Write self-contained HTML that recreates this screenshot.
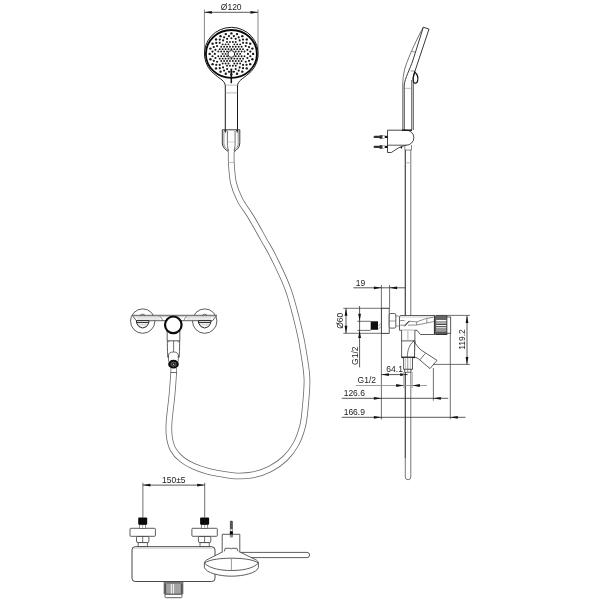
<!DOCTYPE html>
<html><head><meta charset="utf-8"><style>
html,body{margin:0;padding:0;background:#fff;width:600px;height:600px;overflow:hidden}
svg{display:block;will-change:transform}
text{font-family:"Liberation Sans",sans-serif;fill:#222}
</style></head><body>
<svg width="600" height="600" viewBox="0 0 600 600">
<rect width="600" height="600" fill="#fff"/>
<path d="M231.30,151.00 C231.30,152.92 230.93,157.17 231.30,162.50 C231.67,167.83 232.05,176.75 233.50,183.00 C234.95,189.25 237.12,194.38 240.00,200.00 C242.88,205.62 246.80,210.03 250.80,216.70 C254.80,223.37 260.25,233.33 264.00,240.00 C267.75,246.67 269.25,248.37 273.30,256.70 C277.35,265.03 283.98,277.78 288.30,290.00 C292.62,302.22 296.63,319.17 299.25,330.00 C301.87,340.83 302.71,346.67 304.00,355.00 C305.29,363.33 306.83,370.83 307.00,380.00 C307.17,389.17 305.75,402.22 305.00,410.00 C304.25,417.78 304.00,421.03 302.50,426.70 C301.00,432.37 298.92,438.70 296.00,444.00 C293.08,449.30 289.33,454.33 285.00,458.50 C280.67,462.67 275.28,466.28 270.00,469.00 C264.72,471.72 258.85,473.63 253.30,474.80 C247.75,475.97 241.97,476.13 236.70,476.00 C231.43,475.87 226.65,474.83 221.70,474.00 C216.75,473.17 211.78,472.33 207.00,471.00 C202.22,469.67 197.22,467.95 193.00,466.00 C188.78,464.05 185.03,462.08 181.70,459.30 C178.37,456.52 175.07,453.07 173.00,449.30 C170.93,445.53 169.97,441.03 169.30,436.70 C168.63,432.37 168.83,427.75 169.00,423.30 C169.17,418.85 169.80,414.72 170.30,410.00 C170.80,405.28 171.43,401.33 172.00,395.00 C172.57,388.67 173.42,376.50 173.70,372.00 C173.98,367.50 173.70,368.67 173.70,368.00" fill="none" stroke="#6a6a6a" stroke-width="6.6"/>
<path d="M231.30,151.00 C231.30,152.92 230.93,157.17 231.30,162.50 C231.67,167.83 232.05,176.75 233.50,183.00 C234.95,189.25 237.12,194.38 240.00,200.00 C242.88,205.62 246.80,210.03 250.80,216.70 C254.80,223.37 260.25,233.33 264.00,240.00 C267.75,246.67 269.25,248.37 273.30,256.70 C277.35,265.03 283.98,277.78 288.30,290.00 C292.62,302.22 296.63,319.17 299.25,330.00 C301.87,340.83 302.71,346.67 304.00,355.00 C305.29,363.33 306.83,370.83 307.00,380.00 C307.17,389.17 305.75,402.22 305.00,410.00 C304.25,417.78 304.00,421.03 302.50,426.70 C301.00,432.37 298.92,438.70 296.00,444.00 C293.08,449.30 289.33,454.33 285.00,458.50 C280.67,462.67 275.28,466.28 270.00,469.00 C264.72,471.72 258.85,473.63 253.30,474.80 C247.75,475.97 241.97,476.13 236.70,476.00 C231.43,475.87 226.65,474.83 221.70,474.00 C216.75,473.17 211.78,472.33 207.00,471.00 C202.22,469.67 197.22,467.95 193.00,466.00 C188.78,464.05 185.03,462.08 181.70,459.30 C178.37,456.52 175.07,453.07 173.00,449.30 C170.93,445.53 169.97,441.03 169.30,436.70 C168.63,432.37 168.83,427.75 169.00,423.30 C169.17,418.85 169.80,414.72 170.30,410.00 C170.80,405.28 171.43,401.33 172.00,395.00 C172.57,388.67 173.42,376.50 173.70,372.00 C173.98,367.50 173.70,368.67 173.70,368.00" fill="none" stroke="#fff" stroke-width="5.0"/>
<line x1="228.50" y1="162.50" x2="234.20" y2="162.50" stroke="#999" stroke-width="0.60"/>
<line x1="170.60" y1="372.50" x2="176.80" y2="372.50" stroke="#444" stroke-width="0.80"/>
<line x1="204.40" y1="9.50" x2="204.40" y2="50.00" stroke="#555" stroke-width="0.70"/>
<line x1="258.00" y1="9.50" x2="258.00" y2="50.00" stroke="#555" stroke-width="0.70"/>
<line x1="204.40" y1="12.30" x2="258.00" y2="12.30" stroke="#222" stroke-width="0.75"/>
<path d="M204.40,12.30 L211.90,10.90 L211.90,13.70 Z" fill="#111"/>
<path d="M258.00,12.30 L250.50,13.70 L250.50,10.90 Z" fill="#111"/>
<text x="231.20" y="10.00" font-size="8.50" text-anchor="middle">&#216;120</text>
<path d="M225.3,130 L225.3,86 C225.3,81 219.5,78.5 215.9,75.3 A26.9,26.35 0 1 1 246.7,75.3 C243.1,78.5 237.5,81 237.5,86 L237.5,130" fill="#fff" stroke="#1a1a1a" stroke-width="1.0"/>
<ellipse cx="231.4" cy="53.9" rx="25.5" ry="23.9" fill="#fff" stroke="#0a0a0a" stroke-width="1.8"/>
<circle cx="231.40" cy="33.40" r="1.20" fill="#1a1a1a"/>
<circle cx="237.02" cy="34.10" r="1.20" fill="#1a1a1a"/>
<circle cx="242.27" cy="36.15" r="1.20" fill="#1a1a1a"/>
<circle cx="246.77" cy="39.40" r="1.20" fill="#1a1a1a"/>
<circle cx="250.22" cy="43.65" r="1.20" fill="#1a1a1a"/>
<circle cx="252.39" cy="48.59" r="1.20" fill="#1a1a1a"/>
<circle cx="253.13" cy="53.90" r="1.20" fill="#1a1a1a"/>
<circle cx="252.39" cy="59.21" r="1.20" fill="#1a1a1a"/>
<circle cx="250.22" cy="64.15" r="1.20" fill="#1a1a1a"/>
<circle cx="246.77" cy="68.40" r="1.20" fill="#1a1a1a"/>
<circle cx="242.27" cy="71.65" r="1.20" fill="#1a1a1a"/>
<circle cx="237.02" cy="73.70" r="1.20" fill="#1a1a1a"/>
<circle cx="231.40" cy="74.40" r="1.20" fill="#1a1a1a"/>
<circle cx="225.78" cy="73.70" r="1.20" fill="#1a1a1a"/>
<circle cx="220.54" cy="71.65" r="1.20" fill="#1a1a1a"/>
<circle cx="216.03" cy="68.40" r="1.20" fill="#1a1a1a"/>
<circle cx="212.58" cy="64.15" r="1.20" fill="#1a1a1a"/>
<circle cx="210.41" cy="59.21" r="1.20" fill="#1a1a1a"/>
<circle cx="209.67" cy="53.90" r="1.20" fill="#1a1a1a"/>
<circle cx="210.41" cy="48.59" r="1.20" fill="#1a1a1a"/>
<circle cx="212.58" cy="43.65" r="1.20" fill="#1a1a1a"/>
<circle cx="216.03" cy="39.40" r="1.20" fill="#1a1a1a"/>
<circle cx="220.53" cy="36.15" r="1.20" fill="#1a1a1a"/>
<circle cx="225.78" cy="34.10" r="1.20" fill="#1a1a1a"/>
<circle cx="233.89" cy="36.05" r="1.12" fill="#1a1a1a"/>
<circle cx="238.70" cy="37.27" r="1.12" fill="#1a1a1a"/>
<circle cx="243.02" cy="39.62" r="1.12" fill="#1a1a1a"/>
<circle cx="246.54" cy="42.94" r="1.12" fill="#1a1a1a"/>
<circle cx="249.03" cy="47.01" r="1.12" fill="#1a1a1a"/>
<circle cx="250.32" cy="51.55" r="1.12" fill="#1a1a1a"/>
<circle cx="250.32" cy="56.25" r="1.12" fill="#1a1a1a"/>
<circle cx="249.03" cy="60.79" r="1.12" fill="#1a1a1a"/>
<circle cx="246.54" cy="64.86" r="1.12" fill="#1a1a1a"/>
<circle cx="243.02" cy="68.18" r="1.12" fill="#1a1a1a"/>
<circle cx="238.70" cy="70.53" r="1.12" fill="#1a1a1a"/>
<circle cx="233.89" cy="71.75" r="1.12" fill="#1a1a1a"/>
<circle cx="228.91" cy="71.75" r="1.12" fill="#1a1a1a"/>
<circle cx="224.10" cy="70.53" r="1.12" fill="#1a1a1a"/>
<circle cx="219.78" cy="68.18" r="1.12" fill="#1a1a1a"/>
<circle cx="216.26" cy="64.86" r="1.12" fill="#1a1a1a"/>
<circle cx="213.77" cy="60.79" r="1.12" fill="#1a1a1a"/>
<circle cx="212.48" cy="56.25" r="1.12" fill="#1a1a1a"/>
<circle cx="212.48" cy="51.55" r="1.12" fill="#1a1a1a"/>
<circle cx="213.77" cy="47.01" r="1.12" fill="#1a1a1a"/>
<circle cx="216.26" cy="42.94" r="1.12" fill="#1a1a1a"/>
<circle cx="219.78" cy="39.62" r="1.12" fill="#1a1a1a"/>
<circle cx="224.10" cy="37.27" r="1.12" fill="#1a1a1a"/>
<circle cx="228.91" cy="36.05" r="1.12" fill="#1a1a1a"/>
<circle cx="231.40" cy="38.30" r="1.06" fill="#1a1a1a"/>
<circle cx="235.68" cy="38.83" r="1.06" fill="#1a1a1a"/>
<circle cx="239.67" cy="40.39" r="1.06" fill="#1a1a1a"/>
<circle cx="243.09" cy="42.87" r="1.06" fill="#1a1a1a"/>
<circle cx="245.72" cy="46.10" r="1.06" fill="#1a1a1a"/>
<circle cx="247.37" cy="49.86" r="1.06" fill="#1a1a1a"/>
<circle cx="247.94" cy="53.90" r="1.06" fill="#1a1a1a"/>
<circle cx="247.37" cy="57.94" r="1.06" fill="#1a1a1a"/>
<circle cx="245.72" cy="61.70" r="1.06" fill="#1a1a1a"/>
<circle cx="243.09" cy="64.93" r="1.06" fill="#1a1a1a"/>
<circle cx="239.67" cy="67.41" r="1.06" fill="#1a1a1a"/>
<circle cx="235.68" cy="68.97" r="1.06" fill="#1a1a1a"/>
<circle cx="231.40" cy="69.50" r="1.06" fill="#1a1a1a"/>
<circle cx="227.12" cy="68.97" r="1.06" fill="#1a1a1a"/>
<circle cx="223.13" cy="67.41" r="1.06" fill="#1a1a1a"/>
<circle cx="219.71" cy="64.93" r="1.06" fill="#1a1a1a"/>
<circle cx="217.08" cy="61.70" r="1.06" fill="#1a1a1a"/>
<circle cx="215.43" cy="57.94" r="1.06" fill="#1a1a1a"/>
<circle cx="214.86" cy="53.90" r="1.06" fill="#1a1a1a"/>
<circle cx="215.43" cy="49.86" r="1.06" fill="#1a1a1a"/>
<circle cx="217.08" cy="46.10" r="1.06" fill="#1a1a1a"/>
<circle cx="219.71" cy="42.87" r="1.06" fill="#1a1a1a"/>
<circle cx="223.13" cy="40.39" r="1.06" fill="#1a1a1a"/>
<circle cx="227.12" cy="38.83" r="1.06" fill="#1a1a1a"/>
<circle cx="227.03" cy="41.99" r="0.95" fill="#1a1a1a"/>
<circle cx="229.94" cy="41.99" r="0.95" fill="#1a1a1a"/>
<circle cx="232.86" cy="41.99" r="0.95" fill="#1a1a1a"/>
<circle cx="235.77" cy="41.99" r="0.95" fill="#1a1a1a"/>
<circle cx="222.66" cy="44.37" r="0.95" fill="#1a1a1a"/>
<circle cx="225.57" cy="44.37" r="0.95" fill="#1a1a1a"/>
<circle cx="228.49" cy="44.37" r="0.95" fill="#1a1a1a"/>
<circle cx="234.31" cy="44.37" r="0.95" fill="#1a1a1a"/>
<circle cx="237.23" cy="44.37" r="0.95" fill="#1a1a1a"/>
<circle cx="240.15" cy="44.37" r="0.95" fill="#1a1a1a"/>
<circle cx="221.20" cy="46.76" r="0.95" fill="#1a1a1a"/>
<circle cx="224.11" cy="46.76" r="0.95" fill="#1a1a1a"/>
<circle cx="227.03" cy="46.76" r="0.95" fill="#1a1a1a"/>
<circle cx="229.94" cy="46.76" r="0.95" fill="#1a1a1a"/>
<circle cx="232.86" cy="46.76" r="0.95" fill="#1a1a1a"/>
<circle cx="235.77" cy="46.76" r="0.95" fill="#1a1a1a"/>
<circle cx="238.69" cy="46.76" r="0.95" fill="#1a1a1a"/>
<circle cx="241.60" cy="46.76" r="0.95" fill="#1a1a1a"/>
<circle cx="219.74" cy="49.14" r="0.95" fill="#1a1a1a"/>
<circle cx="222.66" cy="49.14" r="0.95" fill="#1a1a1a"/>
<circle cx="225.57" cy="49.14" r="0.95" fill="#1a1a1a"/>
<circle cx="228.49" cy="49.14" r="0.95" fill="#1a1a1a"/>
<circle cx="231.40" cy="49.14" r="0.95" fill="#1a1a1a"/>
<circle cx="234.31" cy="49.14" r="0.95" fill="#1a1a1a"/>
<circle cx="237.23" cy="49.14" r="0.95" fill="#1a1a1a"/>
<circle cx="240.15" cy="49.14" r="0.95" fill="#1a1a1a"/>
<circle cx="243.06" cy="49.14" r="0.95" fill="#1a1a1a"/>
<circle cx="218.28" cy="51.52" r="0.95" fill="#1a1a1a"/>
<circle cx="221.20" cy="51.52" r="0.95" fill="#1a1a1a"/>
<circle cx="224.11" cy="51.52" r="0.95" fill="#1a1a1a"/>
<circle cx="227.03" cy="51.52" r="0.95" fill="#1a1a1a"/>
<circle cx="235.77" cy="51.52" r="0.95" fill="#1a1a1a"/>
<circle cx="238.69" cy="51.52" r="0.95" fill="#1a1a1a"/>
<circle cx="241.60" cy="51.52" r="0.95" fill="#1a1a1a"/>
<circle cx="244.52" cy="51.52" r="0.95" fill="#1a1a1a"/>
<circle cx="222.66" cy="53.90" r="0.95" fill="#1a1a1a"/>
<circle cx="225.57" cy="53.90" r="0.95" fill="#1a1a1a"/>
<circle cx="237.23" cy="53.90" r="0.95" fill="#1a1a1a"/>
<circle cx="240.15" cy="53.90" r="0.95" fill="#1a1a1a"/>
<circle cx="218.28" cy="56.28" r="0.95" fill="#1a1a1a"/>
<circle cx="221.20" cy="56.28" r="0.95" fill="#1a1a1a"/>
<circle cx="224.11" cy="56.28" r="0.95" fill="#1a1a1a"/>
<circle cx="227.03" cy="56.28" r="0.95" fill="#1a1a1a"/>
<circle cx="235.77" cy="56.28" r="0.95" fill="#1a1a1a"/>
<circle cx="238.69" cy="56.28" r="0.95" fill="#1a1a1a"/>
<circle cx="241.60" cy="56.28" r="0.95" fill="#1a1a1a"/>
<circle cx="244.52" cy="56.28" r="0.95" fill="#1a1a1a"/>
<circle cx="219.74" cy="58.66" r="0.95" fill="#1a1a1a"/>
<circle cx="222.66" cy="58.66" r="0.95" fill="#1a1a1a"/>
<circle cx="225.57" cy="58.66" r="0.95" fill="#1a1a1a"/>
<circle cx="228.49" cy="58.66" r="0.95" fill="#1a1a1a"/>
<circle cx="231.40" cy="58.66" r="0.95" fill="#1a1a1a"/>
<circle cx="234.31" cy="58.66" r="0.95" fill="#1a1a1a"/>
<circle cx="237.23" cy="58.66" r="0.95" fill="#1a1a1a"/>
<circle cx="240.15" cy="58.66" r="0.95" fill="#1a1a1a"/>
<circle cx="243.06" cy="58.66" r="0.95" fill="#1a1a1a"/>
<circle cx="221.20" cy="61.04" r="0.95" fill="#1a1a1a"/>
<circle cx="224.11" cy="61.04" r="0.95" fill="#1a1a1a"/>
<circle cx="227.03" cy="61.04" r="0.95" fill="#1a1a1a"/>
<circle cx="229.94" cy="61.04" r="0.95" fill="#1a1a1a"/>
<circle cx="232.86" cy="61.04" r="0.95" fill="#1a1a1a"/>
<circle cx="235.77" cy="61.04" r="0.95" fill="#1a1a1a"/>
<circle cx="238.69" cy="61.04" r="0.95" fill="#1a1a1a"/>
<circle cx="241.60" cy="61.04" r="0.95" fill="#1a1a1a"/>
<circle cx="222.66" cy="63.43" r="0.95" fill="#1a1a1a"/>
<circle cx="225.57" cy="63.43" r="0.95" fill="#1a1a1a"/>
<circle cx="228.49" cy="63.43" r="0.95" fill="#1a1a1a"/>
<circle cx="234.31" cy="63.43" r="0.95" fill="#1a1a1a"/>
<circle cx="237.23" cy="63.43" r="0.95" fill="#1a1a1a"/>
<circle cx="240.15" cy="63.43" r="0.95" fill="#1a1a1a"/>
<circle cx="227.03" cy="65.81" r="0.95" fill="#1a1a1a"/>
<circle cx="229.94" cy="65.81" r="0.95" fill="#1a1a1a"/>
<circle cx="232.86" cy="65.81" r="0.95" fill="#1a1a1a"/>
<circle cx="235.77" cy="65.81" r="0.95" fill="#1a1a1a"/>
<circle cx="231.3" cy="54" r="3.4" fill="#fff" stroke="#222" stroke-width="1.0"/>
<line x1="231.30" y1="69.40" x2="231.30" y2="83.20" stroke="#111" stroke-width="1.50"/>
<line x1="229.20" y1="71.90" x2="233.40" y2="71.90" stroke="#222" stroke-width="1.00"/>
<line x1="225.50" y1="85.10" x2="237.30" y2="85.10" stroke="#aaa" stroke-width="0.80"/>
<line x1="225.50" y1="92.90" x2="237.30" y2="92.90" stroke="#aaa" stroke-width="0.80"/>
<path d="M222.3,129.8 L239.8,129.8 L239.8,143 C239.8,147.5 236.5,150 234.2,151.5 L228.4,151.5 C226,150 222.3,147.5 222.3,143 Z" fill="#fff" stroke="none"/>
<path d="M222.3,129.8 L239.8,129.8 M239.8,129.8 L239.8,143 C239.8,147.5 236.5,150 234.4,151.5 M222.3,129.8 L222.3,143 C222.3,147.5 225.8,150 228.2,151.5" fill="none" stroke="#222" stroke-width="0.9"/>
<path d="M223.9,131 L223.9,144 C223.9,146.5 226,148.5 228.4,150 M238.2,131 L238.2,144 C238.2,146.5 236.2,148.5 234.2,150" fill="none" stroke="#444" stroke-width="0.6"/>
<path d="M227.4,131 L227.4,145.5 C227.6,147.5 228.2,149 228.5,151 M235.1,131 L235.1,145.5 C234.9,147.5 234.3,149 234.1,151" fill="none" stroke="#333" stroke-width="0.7"/>
<line x1="227.50" y1="142.00" x2="235.00" y2="142.00" stroke="#bbb" stroke-width="0.70"/>
<path d="M224.2,130 L225.4,133.2 L226.6,130 Z M236.1,130 L237.2,133.2 L238.3,130Z" fill="#222"/>
<circle cx="142.7" cy="321.1" r="12.2" fill="none" stroke="#333" stroke-width="0.8"/>
<circle cx="204.7" cy="321.1" r="12.2" fill="none" stroke="#333" stroke-width="0.8"/>
<path d="M132.2,315.3 L216.7,315.3 L212.6,320.7 L136.3,320.7 Z" fill="#fff" stroke="#333" stroke-width="0.8"/>
<rect x="136.8" y="317.2" width="23" height="2.8" fill="#e8e8e8"/><rect x="186.8" y="317.2" width="24.2" height="2.8" fill="#e8e8e8"/>
<line x1="133.50" y1="316.70" x2="215.50" y2="316.70" stroke="#888" stroke-width="0.50"/>
<path d="M140.2,315.3 Q142.6,312.8 145,315.3 M202.3,315.3 Q204.7,312.8 207.1,315.3" fill="none" stroke="#333" stroke-width="0.7"/>
<path d="M136.40,320.7 L136.70,323.2 L138.90,326.6 L142.70,328 L146.50,326.6 L148.70,323.2 L149.00,320.7 Z" fill="#fff" stroke="#111" stroke-width="0.9" stroke-linejoin="round"/>
<line x1="136.70" y1="322.60" x2="148.70" y2="322.60" stroke="#222" stroke-width="1.00"/>
<line x1="138.10" y1="324.90" x2="147.30" y2="324.90" stroke="#999" stroke-width="0.60"/>
<path d="M198.40,320.7 L198.70,323.2 L200.90,326.6 L204.70,328 L208.50,326.6 L210.70,323.2 L211.00,320.7 Z" fill="#fff" stroke="#111" stroke-width="0.9" stroke-linejoin="round"/>
<line x1="198.70" y1="322.60" x2="210.70" y2="322.60" stroke="#222" stroke-width="1.00"/>
<line x1="200.10" y1="324.90" x2="209.30" y2="324.90" stroke="#999" stroke-width="0.60"/>
<path d="M159.6,316.5 Q162.2,317.5 162.6,320.7 M187,316.5 Q184.4,317.5 184,320.7" fill="none" stroke="#444" stroke-width="0.6"/>
<path d="M167.2,331 L167.2,340.8 L179.8,340.8 L179.8,331" fill="#fff" stroke="#333" stroke-width="0.8"/>
<path d="M167.4,340.8 Q167.2,345 167.8,357.5 M179.6,340.8 Q179.8,345 179.2,357.5" fill="none" stroke="#333" stroke-width="0.8"/>
<path d="M168.4,355.5 L168.6,361.5 M178.4,355.5 L178.2,361.5" fill="none" stroke="#333" stroke-width="0.7"/>
<path d="M167.6,343 Q168,341.2 170,341 M179.4,343 Q179,341.2 177,341" fill="none" stroke="#555" stroke-width="0.5"/>
<line x1="173.60" y1="340.80" x2="173.60" y2="352.00" stroke="#333" stroke-width="0.70"/>
<path d="M168.4,357.5 L168.4,355.5 Q168.6,352 173.4,352 Q178.2,352 178.4,355.5 L178.4,357.5" fill="none" stroke="#333" stroke-width="0.7"/>
<circle cx="173.3" cy="324.8" r="8.3" fill="#fff" stroke="#0a0a0a" stroke-width="2.2"/>
<ellipse cx="173.5" cy="364.15" rx="4.4" ry="3.5" fill="#2a2a2a" stroke="#0a0a0a" stroke-width="1.9"/>
<ellipse cx="173.5" cy="364.2" rx="2.4" ry="2.0" fill="none" stroke="#777" stroke-width="0.6"/>
<circle cx="173.5" cy="364.4" r="0.6" fill="#bbb"/>
<line x1="142.90" y1="482.70" x2="142.90" y2="517.50" stroke="#333" stroke-width="0.70"/>
<line x1="204.70" y1="482.70" x2="204.70" y2="517.50" stroke="#333" stroke-width="0.70"/>
<line x1="142.90" y1="485.10" x2="204.70" y2="485.10" stroke="#222" stroke-width="0.75"/>
<path d="M142.90,485.10 L150.40,483.70 L150.40,486.50 Z" fill="#111"/>
<path d="M204.70,485.10 L197.20,486.50 L197.20,483.70 Z" fill="#111"/>
<text x="173.80" y="482.90" font-size="8.50" text-anchor="middle">150&#177;5</text>
<rect x="138.10" y="542.5" width="9.2" height="4.4" fill="#fff" stroke="#333" stroke-width="0.7"/>
<rect x="136.50" y="536.3" width="12.4" height="6.3" rx="1.5" fill="#fff" stroke="#333" stroke-width="0.8"/>
<line x1="142.70" y1="536.30" x2="142.70" y2="542.50" stroke="#333" stroke-width="0.70"/>
<rect x="130.00" y="528.3" width="25.4" height="8" rx="0.8" fill="#fff" stroke="#333" stroke-width="0.8"/>
<rect x="139.70" y="524.3" width="6" height="4" fill="#fff" stroke="#444" stroke-width="0.6"/>
<line x1="142.70" y1="524.30" x2="142.70" y2="528.30" stroke="#555" stroke-width="0.50"/>
<rect x="138.20" y="517.6" width="9.0" height="7.1" rx="1" fill="#0a0a0a"/>
<rect x="200.00" y="542.5" width="9.2" height="4.4" fill="#fff" stroke="#333" stroke-width="0.7"/>
<rect x="198.40" y="536.3" width="12.4" height="6.3" rx="1.5" fill="#fff" stroke="#333" stroke-width="0.8"/>
<line x1="204.60" y1="536.30" x2="204.60" y2="542.50" stroke="#333" stroke-width="0.70"/>
<rect x="191.90" y="528.3" width="25.4" height="8" rx="0.8" fill="#fff" stroke="#333" stroke-width="0.8"/>
<rect x="201.60" y="524.3" width="6" height="4" fill="#fff" stroke="#444" stroke-width="0.6"/>
<line x1="204.60" y1="524.30" x2="204.60" y2="528.30" stroke="#555" stroke-width="0.50"/>
<rect x="200.10" y="517.6" width="9.0" height="7.1" rx="1" fill="#0a0a0a"/>
<rect x="132" y="546.7" width="83" height="34.8" rx="3.2" fill="#fff" stroke="#333" stroke-width="0.9"/>
<line x1="133.00" y1="548.30" x2="214.00" y2="548.30" stroke="#aaa" stroke-width="0.50"/>
<rect x="164.2" y="581.6" width="18.6" height="12.7" rx="0.8" fill="#b0b0b0" stroke="#333" stroke-width="0.8"/>
<rect x="164.6" y="582" width="17.8" height="1.8" fill="#777"/>
<rect x="164.6" y="583.8" width="1.6" height="10" fill="#555"/>
<rect x="180.8" y="583.8" width="1.6" height="10" fill="#555"/>
<line x1="167.00" y1="584.00" x2="167.00" y2="593.80" stroke="#888" stroke-width="0.40"/>
<line x1="168.35" y1="584.00" x2="168.35" y2="593.80" stroke="#888" stroke-width="0.40"/>
<line x1="169.70" y1="584.00" x2="169.70" y2="593.80" stroke="#888" stroke-width="0.40"/>
<line x1="171.05" y1="584.00" x2="171.05" y2="593.80" stroke="#888" stroke-width="0.40"/>
<line x1="172.40" y1="584.00" x2="172.40" y2="593.80" stroke="#888" stroke-width="0.40"/>
<line x1="173.75" y1="584.00" x2="173.75" y2="593.80" stroke="#888" stroke-width="0.40"/>
<line x1="175.10" y1="584.00" x2="175.10" y2="593.80" stroke="#888" stroke-width="0.40"/>
<line x1="176.45" y1="584.00" x2="176.45" y2="593.80" stroke="#888" stroke-width="0.40"/>
<line x1="177.80" y1="584.00" x2="177.80" y2="593.80" stroke="#888" stroke-width="0.40"/>
<line x1="179.15" y1="584.00" x2="179.15" y2="593.80" stroke="#888" stroke-width="0.40"/>
<line x1="180.50" y1="584.00" x2="180.50" y2="593.80" stroke="#888" stroke-width="0.40"/>
<line x1="171.30" y1="584.00" x2="171.30" y2="593.80" stroke="#fff" stroke-width="0.90"/>
<line x1="173.40" y1="584.00" x2="173.40" y2="593.80" stroke="#fff" stroke-width="0.90"/>
<rect x="165" y="594.3" width="17" height="3.4" rx="1.2" fill="#fff" stroke="#333" stroke-width="0.8"/>
<path d="M240,552.4 L307,552.4 A2.6,2.6 0 0 1 307,557.6 L240,557.6 Z" fill="#fff" stroke="#333" stroke-width="0.8"/>
<rect x="222.2" y="534.3" width="17.6" height="17.4" fill="#fff"/>
<path d="M222.2,551.8 L222.2,534.3 L239.8,534.3 L239.8,551.8" fill="none" stroke="#333" stroke-width="0.8"/>
<path d="M224.2,551.6 L225.2,548.3 L230.4,548.3 L231.1,549.2 L231.8,548.3 L237,548.3 L238,551.6" fill="none" stroke="#333" stroke-width="0.8"/>
<rect x="229.9" y="520.7" width="2.9" height="16.6" rx="1.2" fill="#3a3a3a"/>
<line x1="230.20" y1="522.20" x2="232.50" y2="522.20" stroke="#999" stroke-width="0.50"/>
<line x1="230.20" y1="523.70" x2="232.50" y2="523.70" stroke="#999" stroke-width="0.50"/>
<line x1="230.20" y1="525.20" x2="232.50" y2="525.20" stroke="#999" stroke-width="0.50"/>
<line x1="230.20" y1="526.70" x2="232.50" y2="526.70" stroke="#999" stroke-width="0.50"/>
<line x1="230.20" y1="528.20" x2="232.50" y2="528.20" stroke="#999" stroke-width="0.50"/>
<rect x="230.3" y="529.2" width="2.1" height="1.8" fill="#eee"/>
<rect x="229.9" y="531.8" width="2.9" height="2.8" fill="#050505"/>
<rect x="229.9" y="534.6" width="2.9" height="2.7" fill="#888"/>
<path d="M223,551.6 L206.5,560 Q204.6,561.3 204.4,563 L258.4,563 Q258.2,561.3 256.3,560 L239,551.6 Z" fill="#fff" stroke="none"/>
<path d="M223,551.6 L206.5,560 Q204.6,561.3 204.4,563 M258.4,563 Q258.2,561.3 256.3,560 L239,551.6" fill="none" stroke="#333" stroke-width="0.8"/>
<path d="M204.4,563 L204.4,567.5 C206,573 220,576.2 231.4,576.2 C243,576.2 257,573 258.4,567.5 L258.4,563" fill="#fff" stroke="#333" stroke-width="0.8"/>
<path d="M204.4,563 C210,559.2 222,558.2 231.4,558.2 C241,558.2 253,559.2 258.4,563 C253,569 241,570.5 231.4,570.5 C222,570.5 210,569 204.4,563 Z" fill="#fff" stroke="#333" stroke-width="0.8"/>
<line x1="231.40" y1="558.60" x2="231.40" y2="570.30" stroke="#555" stroke-width="0.60"/>
<path d="M405.3,150 L405.3,477 A2.75,2.75 0 0 0 410.8,477 L410.8,150" fill="none" stroke="#555" stroke-width="0.8"/>
<line x1="405.30" y1="150.00" x2="405.30" y2="458.00" stroke="#333" stroke-width="0.80"/>
<line x1="405.50" y1="162.80" x2="410.80" y2="162.80" stroke="#aaa" stroke-width="0.80"/>
<path d="M423.2,27.2 C419,35 409,55 405,68 C403.2,75 402.7,80 402.7,86 L402.7,130" fill="none" stroke="#555" stroke-width="0.8"/>
<path d="M423.3,27.3 L413,60 C410,69 405,78 404.2,85 L404.2,130" fill="none" stroke="#222" stroke-width="0.9"/>
<path d="M423.3,27.2 L429,29.1 L415,71 L413.2,78 L413.2,130" fill="none" stroke="#222" stroke-width="0.9"/>
<line x1="411.50" y1="80.00" x2="411.50" y2="130.00" stroke="#444" stroke-width="0.70"/>
<line x1="411.20" y1="51.30" x2="415.30" y2="52.20" stroke="#666" stroke-width="0.70"/>
<line x1="410.70" y1="71.00" x2="415.00" y2="71.00" stroke="#666" stroke-width="0.70"/>
<line x1="403.00" y1="88.30" x2="411.30" y2="88.30" stroke="#888" stroke-width="0.60"/>
<line x1="419.70" y1="33.30" x2="421.50" y2="33.60" stroke="#888" stroke-width="0.50"/>
<path d="M414.7,72 C417,74 418.5,77.5 417.6,81 C417,83.5 414.5,84 413.6,82 C412.8,80 413.2,76 414.7,72 Z" fill="none" stroke="#111" stroke-width="1.2"/>
<path d="M387.5,130.2 L406,130.2 A7.6,7.5 0 0 1 406.5,145.2 C403,145.8 401,146.6 398.5,147.8 L391.3,152.5 L387.5,152.5 Z" fill="#fff" stroke="#333" stroke-width="0.9"/>
<line x1="402.00" y1="130.20" x2="412.00" y2="130.20" stroke="#111" stroke-width="1.40"/>
<line x1="387.50" y1="145.20" x2="406.50" y2="145.20" stroke="#444" stroke-width="0.90"/>
<path d="M400,147.4 L402.6,146.5 L401.6,148.8 Z" fill="#111"/>
<path d="M404.8,145.5 L404.8,150 L411.5,150 L411.5,145" fill="none" stroke="#555" stroke-width="0.7"/>
<line x1="374.7" y1="136.90" x2="380" y2="136.90" stroke="#333" stroke-width="2.3" stroke-linecap="round"/>
<ellipse cx="380.9" cy="136.90" rx="1.7" ry="2.0" fill="#333"/>
<rect x="382.7" y="135.30" width="1.9" height="3.2" fill="#fff" stroke="#777" stroke-width="0.5"/>
<rect x="385" y="135.80" width="2.5" height="2.2" fill="#111"/>
<line x1="374.7" y1="146.90" x2="380" y2="146.90" stroke="#333" stroke-width="2.3" stroke-linecap="round"/>
<ellipse cx="380.9" cy="146.90" rx="1.7" ry="2.0" fill="#333"/>
<rect x="382.7" y="145.30" width="1.9" height="3.2" fill="#fff" stroke="#777" stroke-width="0.5"/>
<rect x="385" y="145.80" width="2.5" height="2.2" fill="#111"/>
<line x1="381.40" y1="285.00" x2="381.40" y2="419.50" stroke="#333" stroke-width="0.70"/>
<line x1="389.60" y1="285.00" x2="389.60" y2="308.30" stroke="#333" stroke-width="0.70"/>
<line x1="343.30" y1="308.30" x2="389.00" y2="308.30" stroke="#333" stroke-width="0.70"/>
<line x1="343.30" y1="333.30" x2="389.00" y2="333.30" stroke="#333" stroke-width="0.70"/>
<rect x="381.4" y="308.3" width="7.8" height="25" fill="#fff" stroke="#333" stroke-width="0.8"/>
<rect x="389.2" y="313.5" width="6.6" height="14.6" rx="1.5" fill="#fff" stroke="#333" stroke-width="0.8"/>
<line x1="389.20" y1="321.00" x2="395.80" y2="321.00" stroke="#555" stroke-width="0.60"/>
<line x1="395.80" y1="316.00" x2="399.00" y2="316.00" stroke="#555" stroke-width="0.60"/>
<line x1="395.80" y1="326.00" x2="399.00" y2="326.00" stroke="#555" stroke-width="0.60"/>
<path d="M401,315.5 L434.7,315.5 L434.7,334.5 L420.5,334.5 L417,330.3 L399.5,330.3 L399.5,317 Q399.5,315.5 401,315.5 Z" fill="#fff" stroke="#333" stroke-width="0.8"/>
<line x1="400.20" y1="317.00" x2="434.00" y2="317.00" stroke="#999" stroke-width="0.50"/>
<path d="M400.2,320.5 L404.5,320.5 M400.2,325.2 L404.4,325.2 L409,321.2 L416.7,321.9 L416.7,325 L408,325.2 M416.7,321.9 L425.4,318.75 L433,317.3 M416.7,325 L426.8,323 L426.8,318.75 M426.8,323 L433.8,321.5" fill="none" stroke="#444" stroke-width="0.6"/>
<path d="M404.4,326.4 L409.2,321.2" fill="none" stroke="#222" stroke-width="1"/>
<line x1="434.40" y1="315.50" x2="434.40" y2="334.50" stroke="#222" stroke-width="0.90"/>
<rect x="435.8" y="315.9" width="11.1" height="18.6" fill="#8a8a8a" stroke="#222" stroke-width="0.9"/>
<rect x="436.2" y="316.3" width="10.3" height="3.8" fill="#666"/>
<rect x="436.2" y="320" width="10.3" height="1.1" fill="#fafafa"/>
<rect x="436.2" y="321.1" width="10.3" height="3" fill="#a8a8a8"/>
<rect x="436.2" y="324.1" width="10.3" height="0.8" fill="#222"/>
<rect x="436.2" y="324.9" width="10.3" height="1.3" fill="#fafafa"/>
<rect x="436.2" y="326.2" width="10.3" height="0.7" fill="#333"/>
<rect x="436.2" y="326.9" width="10.3" height="1.0" fill="#ddd"/>
<rect x="436.2" y="327.9" width="10.3" height="4" fill="#999"/>
<rect x="436.2" y="331.9" width="10.3" height="2.2" fill="#555"/>
<rect x="446.9" y="317" width="3.8" height="16.2" fill="#fff" stroke="#333" stroke-width="0.8"/>
<path d="M401.6,330.3 L401.6,357.3 L414.9,357.3 L414.9,330.3" fill="#fff" stroke="#333" stroke-width="0.8"/>
<line x1="401.60" y1="340.90" x2="414.90" y2="340.90" stroke="#333" stroke-width="0.80"/>
<line x1="407.90" y1="330.60" x2="407.90" y2="340.60" stroke="#aaa" stroke-width="0.90"/>
<path d="M413.3,340.9 C416,344 418,347.5 421,350 L437,360.4 L430,368.6 L418.3,358.7 C416.5,357.6 415,357.3 414.5,357.3 L414.9,341 Z" fill="#fff" stroke="#333" stroke-width="0.8"/>
<line x1="425.30" y1="353.40" x2="420.00" y2="359.80" stroke="#333" stroke-width="0.70"/>
<path d="M413.5,341.3 C409.5,344.5 407.5,350 407.3,357" fill="none" stroke="#333" stroke-width="0.7"/>
<line x1="401.60" y1="357.40" x2="414.90" y2="357.40" stroke="#111" stroke-width="1.40"/>
<rect x="403.7" y="357.6" width="8.7" height="11.65" fill="#fff" stroke="#333" stroke-width="0.8"/>
<rect x="404.8" y="369.25" width="6.1" height="3" fill="#fff" stroke="#333" stroke-width="0.7"/>
<line x1="407.75" y1="358.00" x2="407.75" y2="372.00" stroke="#555" stroke-width="0.60"/>
<line x1="405.60" y1="358.00" x2="405.60" y2="369.00" stroke="#888" stroke-width="0.50"/>
<line x1="410.40" y1="358.00" x2="410.40" y2="369.00" stroke="#888" stroke-width="0.50"/>
<line x1="357.30" y1="321.30" x2="370.70" y2="321.30" stroke="#333" stroke-width="0.70"/>
<line x1="357.30" y1="330.40" x2="370.70" y2="330.40" stroke="#333" stroke-width="0.70"/>
<rect x="370.7" y="321.3" width="7.3" height="8.5" fill="#111"/>
<path d="M378,326.5 L381.4,323 M378,329.5 L381.4,326" fill="none" stroke="#666" stroke-width="0.6"/>
<line x1="353.40" y1="287.80" x2="405.00" y2="287.80" stroke="#222" stroke-width="0.75"/>
<path d="M381.40,287.80 L373.90,289.20 L373.90,286.40 Z" fill="#111"/>
<path d="M389.60,287.80 L397.10,286.40 L397.10,289.20 Z" fill="#111"/>
<text x="360.40" y="285.50" font-size="8.50" text-anchor="middle">19</text>
<line x1="346.00" y1="308.30" x2="346.00" y2="333.30" stroke="#222" stroke-width="0.75"/>
<path d="M346.00,308.30 L347.40,315.80 L344.60,315.80 Z" fill="#111"/>
<path d="M346.00,333.30 L344.60,325.80 L347.40,325.80 Z" fill="#111"/>
<text x="343.40" y="320.80" font-size="8.50" text-anchor="middle" transform="rotate(-90 343.40 320.80)">&#216;60</text>
<line x1="359.60" y1="306.00" x2="359.60" y2="367.30" stroke="#222" stroke-width="0.75"/>
<path d="M359.60,321.30 L358.20,313.80 L361.00,313.80 Z" fill="#111"/>
<path d="M359.60,330.40 L361.00,337.90 L358.20,337.90 Z" fill="#111"/>
<text x="358.20" y="355.70" font-size="8.50" text-anchor="middle" transform="rotate(-90 358.20 355.70)">G1/2</text>
<line x1="381.40" y1="374.60" x2="407.70" y2="374.60" stroke="#222" stroke-width="0.75"/>
<path d="M381.40,374.60 L388.90,373.20 L388.90,376.00 Z" fill="#111"/>
<path d="M407.70,374.60 L400.20,376.00 L400.20,373.20 Z" fill="#111"/>
<text x="394.60" y="372.30" font-size="8.50" text-anchor="middle">64.1</text>
<line x1="403.80" y1="372.00" x2="403.80" y2="388.00" stroke="#aaa" stroke-width="1.10"/>
<line x1="412.20" y1="372.00" x2="412.20" y2="388.00" stroke="#aaa" stroke-width="1.10"/>
<line x1="355.75" y1="385.50" x2="427.00" y2="385.50" stroke="#888" stroke-width="0.80"/>
<path d="M403.70,385.50 L396.20,386.90 L396.20,384.10 Z" fill="#111"/>
<path d="M412.40,385.50 L419.90,384.10 L419.90,386.90 Z" fill="#111"/>
<text x="366.80" y="383.00" font-size="8.50" text-anchor="middle">G1/2</text>
<line x1="341.75" y1="398.30" x2="448.20" y2="398.30" stroke="#222" stroke-width="0.75"/>
<path d="M381.40,398.30 L373.90,399.70 L373.90,396.90 Z" fill="#111"/>
<path d="M433.40,398.30 L440.90,396.90 L440.90,399.70 Z" fill="#111"/>
<text x="354.30" y="395.60" font-size="8.50" text-anchor="middle">126.6</text>
<line x1="433.40" y1="368.00" x2="433.40" y2="400.70" stroke="#333" stroke-width="0.70"/>
<line x1="341.75" y1="417.30" x2="465.50" y2="417.30" stroke="#222" stroke-width="0.75"/>
<path d="M381.40,417.30 L373.90,418.70 L373.90,415.90 Z" fill="#111"/>
<path d="M450.30,417.30 L457.80,415.90 L457.80,418.70 Z" fill="#111"/>
<text x="354.30" y="414.80" font-size="8.50" text-anchor="middle">166.9</text>
<line x1="450.30" y1="333.00" x2="450.30" y2="419.20" stroke="#333" stroke-width="0.70"/>
<line x1="436.00" y1="315.40" x2="469.80" y2="315.40" stroke="#333" stroke-width="0.70"/>
<line x1="433.00" y1="364.40" x2="469.80" y2="364.40" stroke="#333" stroke-width="0.70"/>
<line x1="467.00" y1="315.60" x2="467.00" y2="364.40" stroke="#222" stroke-width="0.75"/>
<path d="M467.00,315.60 L468.40,323.10 L465.60,323.10 Z" fill="#111"/>
<path d="M467.00,364.40 L465.60,356.90 L468.40,356.90 Z" fill="#111"/>
<text x="465.20" y="339.50" font-size="8.50" text-anchor="middle" transform="rotate(-90 465.20 339.50)">119.2</text>
</svg>
</body></html>
